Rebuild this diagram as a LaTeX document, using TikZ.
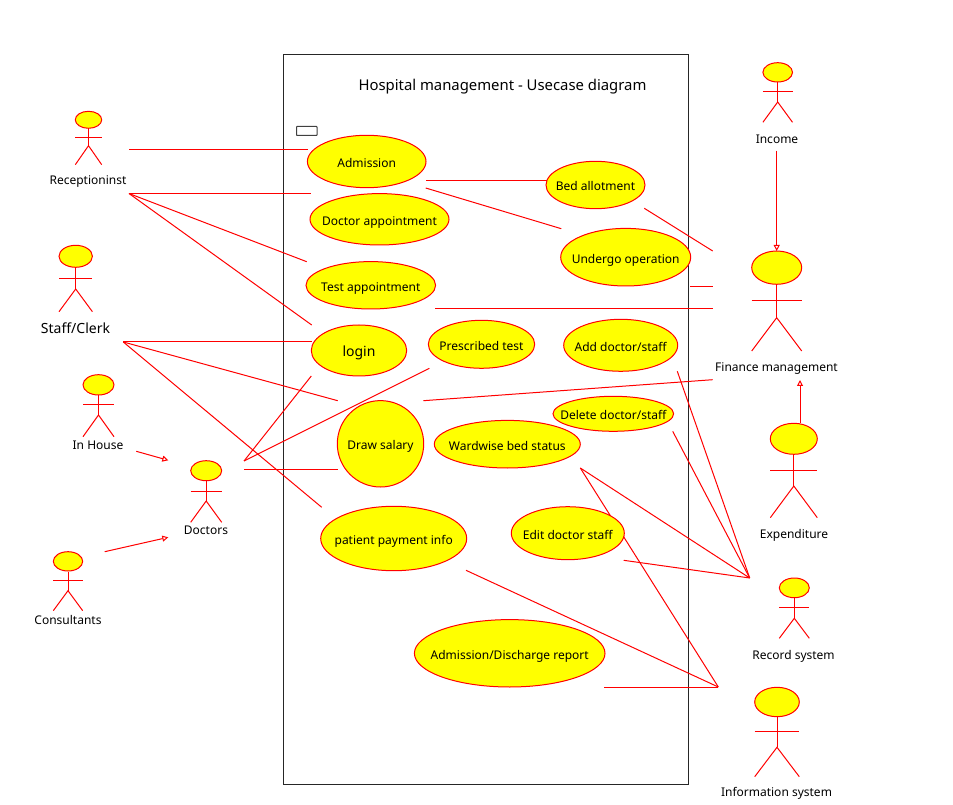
\documentclass[tikz,border=0pt]{standalone}
\usepackage{fontspec}
\setmainfont{Noto Sans}
\usetikzlibrary{shapes.geometric}                    %allows ellipse nodes.
\usetikzlibrary{arrows.meta}                         %allows open triangle tips.
\definecolor{ucyellow}{RGB}{255,255,0}
\definecolor{ucred}{RGB}{255,0,0}

\begin{document}
\begin{tikzpicture}[x=0.75pt,y=-0.75pt,line width=0.75pt,
  assoc/.style={color=ucred},
  gen/.style={color=ucred,-{Triangle[open,fill=white,length=4.5pt,width=4.5pt]}},
  usecase/.style={ellipse,draw=ucred,fill=ucyellow,inner sep=0pt,font=\fontsize{9}{11}\selectfont},
  ucsize/.style 2 args={minimum width=#1*0.75pt,minimum height=#2*0.75pt},
  actorhead/.style={ellipse,draw=ucred,fill=ucyellow,inner sep=0pt},
  actorline/.style={color=ucred},
  actorname/.style={font=\fontsize{9}{11}\selectfont,inner sep=0pt},
  bigname/.style={font=\fontsize{10.5}{12}\selectfont,inner sep=0pt}]

\useasboundingbox (0,0) rectangle (953,805);

% Text inside an ellipse must not stretch it.
\def\uctext#1{\makebox[0pt]{\raisebox{-4.4pt}[0pt][0pt]{#1}}}

% Stick figure: name, x, half width, head top, head bottom, arms, hip, feet.
\def\actor#1#2#3#4#5#6#7#8{
  \node[actorhead,minimum width=2*#3*0.75pt,minimum height=(#5-#4)*0.75pt] (#1) at (#2,{(#4+#5)/2}) {};
  \coordinate (#1hip) at (#2,#7);
  \draw[actorline] (#1.south) -- (#1hip);
  \draw[actorline] ({#2-#3},#6) -- ({#2+#3},#6);
  \draw[actorline] ({#2-#3},#8) -- (#1hip) -- ({#2+#3},#8);
}

% System boundary and the small box.
\draw[color=black!85] (283.5,54.5) rectangle (688.5,784.5);
\draw[color=black!75,rounded corners=0.5pt] (296.5,126.5) rectangle (317,135.5);
\node[font=\fontsize{11.15}{14}\selectfont,inner sep=0pt] (title) at (502.5,86.5) {Hospital management - Usecase diagram};

% Define coordinates.
\coordinate (recepa) at (129,150);
\coordinate (admina) at (307.5,150);
\coordinate (recepb) at (129,193.5);
\coordinate (doctb) at (311,193.5);
\coordinate (testb) at (306.7,261.7);
\coordinate (loginb) at (311.7,325);
\coordinate (staffr) at (123.3,342);
\coordinate (loginc) at (311.7,342);
\coordinate (salaryc) at (337.7,400.7);
\coordinate (payc) at (321.7,507.3);
\coordinate (doca) at (244,461);
\coordinate (logind) at (311.3,376);
\coordinate (presd) at (429.3,368.3);
\coordinate (docb) at (244,469);
\coordinate (salaryd) at (338,469);
\coordinate (adminb) at (426,180.5);
\coordinate (bedb) at (547,180.5);
\coordinate (adminc) at (425.7,188);
\coordinate (undc) at (561.3,228.7);

% finance ends
\coordinate (salaryf) at (423.3,400.7);
\coordinate (fina) at (712.7,379.7);
\coordinate (bedf) at (644.3,208.3);
\coordinate (finb) at (712.7,251);
\coordinate (undf) at (690,286.3);
\coordinate (finc) at (713,286.3);
\coordinate (testf) at (435,309);
\coordinate (find) at (713,309);

% record system ends
\coordinate (rechub) at (749.7,578);
\coordinate (addr) at (677.3,371.3);
\coordinate (delr) at (672.7,431.3);
\coordinate (wardr) at (580.3,468);
\coordinate (editr) at (623.7,560.3);

% information system ends
\coordinate (infohub) at (718.3,687);
\coordinate (reporti) at (604.3,687);
\coordinate (payi) at (466,570.3);

% arrow ends
\coordinate (housea) at (136.3,451.3);
\coordinate (docc) at (168.3,460.3);
\coordinate (consa) at (104.7,551.7);
\coordinate (docd) at (168.3,537.3);
\coordinate (incomea) at (776.7,150.7);
\coordinate (finhead) at (776.7,251);
\coordinate (expa) at (800,423.3);
\coordinate (fine) at (800,380);

% Associations
\draw[assoc] (recepa) -- (admina);
\draw[assoc] (recepb) -- (doctb);
\draw[assoc] (recepb) -- (testb);
\draw[assoc] (recepb) -- (loginb);
\draw[assoc] (staffr) -- (loginc);
\draw[assoc] (staffr) -- (salaryc);
\draw[assoc] (staffr) -- (payc);
\draw[assoc] (doca) -- (logind);
\draw[assoc] (doca) -- (presd);
\draw[assoc] (docb) -- (salaryd);
\draw[assoc] (adminb) -- (bedb);
\draw[assoc] (adminc) -- (undc);
\draw[assoc] (salaryf) -- (fina);
\draw[assoc] (bedf) -- (finb);
\draw[assoc] (undf) -- (finc);
\draw[assoc] (testf) -- (find);
\draw[assoc] (addr) -- (rechub);
\draw[assoc] (delr) -- (rechub);
\draw[assoc] (wardr) -- (rechub);
\draw[assoc] (editr) -- (rechub);
\draw[assoc] (wardr) -- (infohub);
\draw[assoc] (reporti) -- (infohub);
\draw[assoc] (payi) -- (infohub);

% Generalizations
\draw[gen] (housea) -- (docc);
\draw[gen] (consa) -- (docd);
\draw[gen] (incomea) -- (finhead);
\draw[gen] (expa) -- (fine);

% Use cases
\node[usecase,ucsize={118.6}{52.4}] (admission) at (366.7,161.5) {\uctext{Admission}};
\node[usecase,ucsize={139}{51.4}] (doctor) at (379.5,219.3) {\uctext{Doctor appointment}};
\node[usecase,ucsize={129.6}{47.4}] (test) at (370.8,285.3) {\uctext{Test appointment}};
\node[usecase,ucsize={99}{47.4}] (bed) at (595.5,185) {\uctext{Bed allotment}};
\node[usecase,ucsize={130}{57.6}] (undergo) at (625.7,257.2) {\uctext{Undergo operation}};
\node[usecase,ucsize={95.4}{51},font=\fontsize{10.5}{12}\selectfont] (login) at (359,350.5) {\uctext{login}};
\node[usecase,ucsize={106.4}{48}] (prescribed) at (481.5,344.3) {\uctext{Prescribed test}};
\node[usecase,ucsize={114}{52}] (add) at (620.7,345.3) {\uctext{Add doctor/staff}};
\node[usecase,ucsize={120.6}{35}] (delete) at (613.3,413.8) {\uctext{Delete doctor/staff}};
\node[usecase,ucsize={146}{47.6}] (ward) at (507.3,444.2) {\uctext{Wardwise bed status}};
\node[usecase,ucsize={86.4}{86.4}] (salary) at (380.5,443.8) {\uctext{Draw salary}};
\node[usecase,ucsize={146}{64.4}] (payment) at (393.7,538.5) {\uctext{patient payment info}};
\node[usecase,ucsize={113}{53}] (edit) at (567.8,533.2) {\uctext{Edit doctor staff}};
\node[usecase,ucsize={190.6}{67.4}] (report) at (509.7,653.3) {\uctext{Admission/Discharge report}};

% Actors
\actor{recep}{88.5}{13.2}{111.3}{128.3}{137.3}{145.7}{164.7}
\actor{staff}{75.7}{16.7}{245.3}{267.3}{278.3}{289}{311.7}
\actor{house}{98.5}{15.5}{374.7}{395}{405}{415}{436.7}
\actor{doctors}{206.2}{15.5}{460.7}{480.7}{491}{501}{522.3}
\actor{consult}{68}{14.7}{551.7}{571}{580.7}{590.7}{610.7}
\actor{income}{777.7}{14.8}{62.7}{82}{92}{102}{122.3}
\actor{finance}{776.7}{25}{251}{284.3}{300.7}{317.7}{351}
\actor{expend}{793.8}{23.5}{423.3}{454.3}{470}{486}{517.7}
\actor{record}{794.3}{15}{578}{597.7}{607.7}{618.3}{638.3}
\actor{info}{777}{22.3}{687.3}{716.7}{731.3}{747.3}{776.7}

% Actor names
\node[actorname] (recepname) at (88,182) {Receptioninst};
\node[bigname] (staffname) at (75.5,328) {Staff/Clerk};
\node[actorname] (housename) at (98,445.5) {In House};
\node[actorname] (doctorsname) at (206,530.5) {Doctors};
\node[actorname] (consultname) at (68,619.5) {Consultants};
\node[actorname] (incomename) at (777,139) {Income};
\node[actorname] (financename) at (776.5,369) {Finance management};
\node[actorname] (expendname) at (794,535) {Expenditure};
\node[actorname] (recordname) at (793.5,656) {Record system};
\node[actorname] (infoname) at (776.5,793.5) {Information system};

\end{tikzpicture}
\end{document}
